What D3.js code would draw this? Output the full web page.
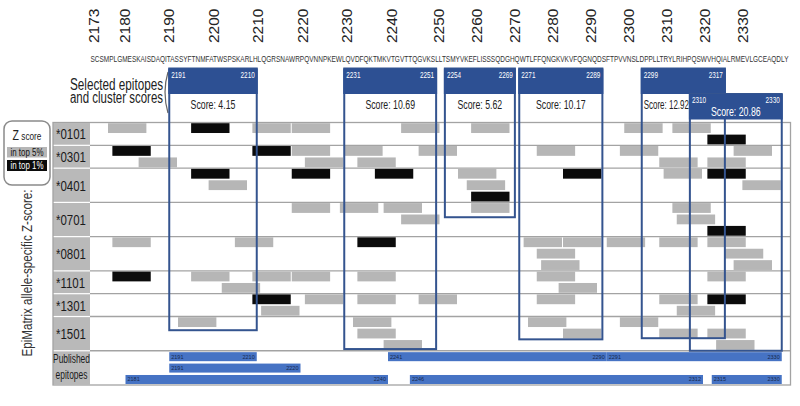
<!DOCTYPE html>
<html>
<head>
<meta charset="utf-8">
<script src="https://cdn.jsdelivr.net/npm/d3@7"></script>
<style>
  body { margin: 0; background: #fff; }
  svg { display: block; font-family: "Liberation Sans", Arial, sans-serif; }
</style>
</head>
<body>
<svg width="800" height="406"></svg>
<script>
// ---- data ----
const sequence = "SCSMPLGMESKAISDAQITASSYFTNMFATWSPSKARLHLQGRSNAWRPQVNNPKEWLQVDFQKTMKVTGVTTQGVKSLLTSMYVKEFLISSSQDGHQWTLFFQNGKVKVFQGNQDSFTPVVNSLDPPLLTRYLRIHPQSWVHQIALRMEVLGCEAQDLY";
const firstRes = 2173;
const tickVals = [2173, 2180, 2190, 2200, 2210, 2220, 2230, 2240, 2250, 2260, 2270, 2280, 2290, 2300, 2310, 2320, 2330];

const alleles = ["*0101", "*0301", "*0401", "*0701", "*0801", "*1101", "*1301", "*1501"];
const laneCount = [2, 2, 3, 3, 3, 2, 2, 3];
const merLen = 9;

// [lane, start residue, top 1% ?]
const hits0101 = [[0,2177,0],[0,2196,1],[0,2210,0],[0,2219,0],[0,2244,0],[0,2260,0],[0,2295,0],[0,2306,0],[1,2314,1]];
const hits0301 = [[0,2178,1],[1,2184,0],[0,2210,1],[0,2219,0],[1,2222,0],[0,2231,0],[1,2234,0],[0,2248,0],[0,2275,0],[0,2294,0],[1,2303,0],[1,2314,0],[0,2320,0]];
const hits0401 = [[0,2196,1],[1,2200,0],[0,2219,1],[0,2238,1],[0,2257,0],[1,2259,0],[2,2260,1],[0,2281,1],[0,2304,0],[0,2314,1],[1,2322,0]];
const hits0701 = [[0,2219,0],[0,2230,0],[0,2240,0],[1,2244,0],[0,2260,0],[0,2306,0],[1,2307,0],[2,2314,1]];
const hits0801 = [[0,2178,0],[0,2206,0],[0,2234,1],[0,2272,0],[0,2281,0],[0,2291,0],[0,2303,0],[0,2314,0],[1,2275,0],[1,2318,0],[2,2276,0],[2,2320,0]];
const hits1101 = [[0,2178,1],[0,2196,0],[1,2203,0],[0,2210,0],[0,2219,0],[0,2234,0],[0,2275,0],[1,2280,0],[0,2314,0]];
const hits1301 = [[0,2210,1],[1,2212,0],[0,2222,0],[0,2234,0],[0,2248,0],[0,2275,0],[0,2303,0],[1,2307,0],[0,2314,1]];
const hits1501 = [[0,2193,0],[0,2233,0],[1,2234,0],[2,2240,0],[0,2273,0],[1,2281,0],[0,2294,0],[1,2303,0],[1,2314,0],[2,2316,0]];
const hitsByAllele = [hits0101, hits0301, hits0401, hits0701, hits0801, hits1101, hits1301, hits1501];

// selected epitope clusters
const epiStart = [2191, 2231, 2254, 2271, 2299, 2310];
const epiEnd   = [2210, 2251, 2269, 2289, 2317, 2330];
const epiScore = [4.15, 10.69, 5.62, 10.17, 12.92, 20.86];

// published epitopes
const pubStart = [2191, 2241, 2291, 2191, 2181, 2246, 2315];
const pubEnd   = [2210, 2290, 2330, 2220, 2240, 2312, 2330];
const pubLane  = [0, 0, 0, 1, 2, 2, 2];
const pubLanes = 3;

// layout of the cluster boxes (depth in lanes, header dropped one step)
const boxDepth = [18.2, 19.85, 8.3, 19.0, 18.9, 20.0];
const boxDrop  = [0, 0, 0, 0, 0, 1];

// ---- scales ----
const svg = d3.select("svg");
const x = d3.scaleLinear().domain([firstRes, firstRes + sequence.length]).range([90.5, 790.5]);
const totalLanes = d3.sum(laneCount) + pubLanes;
const laneY = d3.scaleLinear().domain([0, totalLanes]).range([122.5, 385]);
const laneH = laneY(1) - laneY(0);
// printed column numbers drift off the residue grid in the source figure
const labelX = d3.scaleLinear().domain([2173, 2240, 2250, 2330]).range([93, 391, 438, 742]);

const laneOffset = d3.cumsum([0, ...laneCount]);
const tableL = 53, labW = 37, tableR = x.range()[1];

const squeeze = (sel, k) => sel.each(function () {
  const w = this.getComputedTextLength();
  d3.select(this).attr("textLength", w * k).attr("lengthAdjust", "spacingAndGlyphs");
});

// ---- top: residue numbers + sequence ----
svg.append("g").selectAll("text")
  .data(tickVals)
  .join("text")
  .attr("transform", d => `translate(${labelX(d)},43) rotate(-90)`)
  .attr("dy", "0.36em")
  .attr("text-anchor", "start")
  .attr("font-size", 15.5)
  .attr("fill", "#222")
  .text(d => d);

svg.append("text")
  .attr("x", x(firstRes))
  .attr("y", 62)
  .attr("font-size", 9.5)
  .attr("fill", "#333")
  .attr("textLength", x(firstRes + sequence.length) - x(firstRes) - 2)
  .attr("lengthAdjust", "spacingAndGlyphs")
  .text(sequence);

// title at left of boxes
svg.append("text").attr("x", 163).attr("y", 89.5).attr("text-anchor", "end")
  .attr("font-size", 16).attr("fill", "#222")
  .attr("textLength", 93).attr("lengthAdjust", "spacingAndGlyphs")
  .text("Selected epitopes");
svg.append("text").attr("x", 163).attr("y", 102.5).attr("text-anchor", "end")
  .attr("font-size", 16).attr("fill", "#222")
  .attr("textLength", 93).attr("lengthAdjust", "spacingAndGlyphs")
  .text("and cluster scores");
svg.append("path")
  .attr("d", "M168,72 Q162,92 168,113")
  .attr("fill", "none").attr("stroke", "#666").attr("stroke-width", 1.2);

// ---- table ----
const table = svg.append("g");

const rowsData = alleles.map((a, i) => ({ name: a, top: laneOffset[i], n: laneCount[i], hits: hitsByAllele[i] }));
rowsData.push({ name: "Published", top: laneOffset[alleles.length], n: pubLanes, hits: [] });

table.selectAll("rect.lab")
  .data(rowsData)
  .join("rect")
  .attr("class", "lab")
  .attr("x", tableL)
  .attr("y", d => laneY(d.top) + 0.6)
  .attr("width", labW)
  .attr("height", d => laneY(d.top + d.n) - laneY(d.top) - 1.2)
  .attr("fill", "#b9b9b9");

table.selectAll("line.row")
  .data(rowsData.slice(1))
  .join("line")
  .attr("class", "row")
  .attr("x1", tableL + labW).attr("x2", tableR)
  .attr("y1", d => laneY(d.top)).attr("y2", d => laneY(d.top))
  .attr("stroke", "#a3a3a3").attr("stroke-width", 1.3);

table.append("rect")
  .attr("x", tableL).attr("y", laneY(0))
  .attr("width", tableR - tableL).attr("height", laneY(totalLanes) - laneY(0))
  .attr("fill", "none").attr("stroke", "#a3a3a3").attr("stroke-width", 1.3);

table.selectAll("text.allele")
  .data(rowsData.slice(0, alleles.length))
  .join("text")
  .attr("class", "allele")
  .attr("x", tableL + 3)
  .attr("y", d => (laneY(d.top) + laneY(d.top + d.n)) / 2 + 5.5)
  .attr("font-size", 15.5)
  .attr("fill", "#1a1a1a")
  .text(d => d.name)
  .call(squeeze, 0.74);

const pubTop = laneY(laneOffset[alleles.length]);
table.append("text").attr("x", tableL + labW / 2).attr("y", pubTop + 12)
  .attr("text-anchor", "middle").attr("font-size", 12).attr("fill", "#1a1a1a")
  .text("Published").call(squeeze, 0.7);
table.append("text").attr("x", tableL + labW / 2).attr("y", pubTop + 28)
  .attr("text-anchor", "middle").attr("font-size", 12).attr("fill", "#1a1a1a")
  .text("epitopes").call(squeeze, 0.7);

// allele hits
rowsData.slice(0, alleles.length).forEach(row => {
  table.append("g").selectAll("rect")
    .data(row.hits)
    .join("rect")
    .attr("x", d => x(d[1]))
    .attr("width", d => x(d[1] + merLen) - x(d[1]) - 1)
    .attr("y", d => laneY(row.top + d[0]) + 0.7)
    .attr("height", laneH - 1.6)
    .attr("fill", d => d[2] ? "#0b0b0b" : "#b6b6b6");
});

// published epitopes
const pub = pubStart.map((s, i) => ({ s, e: pubEnd[i], lane: pubLane[i] }));
const pubG = table.append("g").selectAll("g")
  .data(pub)
  .join("g")
  .attr("transform", d => `translate(0,${laneY(laneOffset[alleles.length] + d.lane) + 1.4})`);
pubG.append("rect")
  .attr("x", d => x(d.s))
  .attr("width", d => x(d.e + 1) - x(d.s))
  .attr("height", laneH - 2.4)
  .attr("fill", "#4673c4");
pubG.append("text")
  .attr("x", d => x(d.s) + 2).attr("y", 6.5)
  .attr("font-size", 5.5).attr("fill", "#17294d")
  .text(d => d.s);
pubG.append("text")
  .attr("x", d => x(d.e + 1) - 2).attr("y", 6.5)
  .attr("text-anchor", "end")
  .attr("font-size", 5.5).attr("fill", "#17294d")
  .text(d => d.e);

// ---- selected epitope boxes ----
const headH = 25.5, headTop = 68.5;
const boxes = epiStart.map((s, i) => ({
  s, e: epiEnd[i], score: epiScore[i], depth: boxDepth[i], drop: boxDrop[i],
  crowded: i + 1 < epiStart.length && epiStart[i + 1] <= epiEnd[i]
}));

const boxG = svg.append("g").selectAll("g")
  .data(boxes)
  .join("g");

boxG.append("rect")
  .attr("x", d => x(d.s))
  .attr("y", d => headTop + d.drop * headH)
  .attr("width", d => x(d.e + 1) - x(d.s))
  .attr("height", d => laneY(d.depth) - headTop - d.drop * headH)
  .attr("fill", "none")
  .attr("stroke", "#34548f")
  .attr("stroke-width", 2);

boxG.append("rect")
  .attr("x", d => x(d.s) - 1)
  .attr("y", d => headTop + d.drop * headH)
  .attr("width", d => x(d.e + 1) - x(d.s) + 2)
  .attr("height", headH)
  .attr("fill", "#2d5093");

boxG.append("text")
  .attr("x", d => x(d.s) + 2)
  .attr("y", d => headTop + d.drop * headH + (d.drop ? 8.5 : 9.5))
  .attr("font-size", 8.5).attr("fill", "#fff")
  .text(d => d.s)
  .call(squeeze, 0.75);

boxG.append("text")
  .attr("x", d => x(d.e + 1) - 2)
  .attr("y", d => headTop + d.drop * headH + (d.drop ? 8.5 : 9.5))
  .attr("text-anchor", "end")
  .attr("font-size", 8.5).attr("fill", "#fff")
  .text(d => d.e)
  .call(squeeze, 0.75);

const scoreText = boxG.append("text")
  .attr("x", d => d.crowded ? x(d.s) + 2 : (x(d.s) + x(d.e + 1)) / 2)
  .attr("y", d => d.drop ? headTop + d.drop * headH + 21.5 : 108.5)
  .attr("text-anchor", d => d.crowded ? "start" : "middle")
  .attr("font-size", 12.5)
  .attr("fill", d => d.drop ? "#fff" : "#222")
  .text(d => `Score: ${d.score}`)
  .call(squeeze, 0.7);

// the overlapped box keeps its score clear of the next header
scoreText.filter(d => d.crowded)
  .attr("textLength", d => x(d.e + 1) - x(d.s) - 38);

// ---- left legend ----
const leg = svg.append("g");
leg.append("rect")
  .attr("x", 4).attr("y", 121).attr("width", 46).attr("height", 64).attr("rx", 8)
  .attr("fill", "#fff").attr("stroke", "#8a8a8a").attr("stroke-width", 1.5);
const zt = leg.append("text").attr("x", 27).attr("y", 140).attr("text-anchor", "middle").attr("fill", "#222");
zt.append("tspan").attr("font-size", 14).text("Z");
zt.append("tspan").attr("font-size", 11).text(" score");
zt.call(squeeze, 0.75);
leg.append("rect").attr("x", 7).attr("y", 147).attr("width", 40).attr("height", 10.5).attr("fill", "#b6b6b6");
leg.append("text").attr("x", 27).attr("y", 156).attr("text-anchor", "middle")
  .attr("font-size", 11).attr("fill", "#111").text("in top 5%").call(squeeze, 0.72);
leg.append("rect").attr("x", 7).attr("y", 160).attr("width", 40).attr("height", 11).attr("fill", "#0b0b0b");
leg.append("text").attr("x", 27).attr("y", 169).attr("text-anchor", "middle")
  .attr("font-size", 11).attr("fill", "#fff").text("in top 1%").call(squeeze, 0.72);

svg.append("text")
  .attr("transform", "translate(32,273) rotate(-90)")
  .attr("text-anchor", "middle")
  .attr("font-size", 14)
  .attr("fill", "#333")
  .attr("textLength", 167).attr("lengthAdjust", "spacingAndGlyphs")
  .text("EpiMatrix allele-specific Z-score:");
</script>
</body>
</html>
